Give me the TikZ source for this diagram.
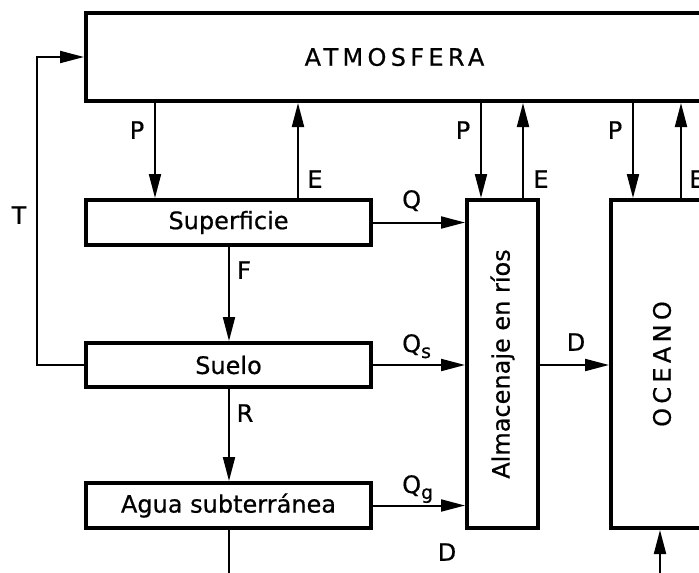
\documentclass[tikz,border=0pt]{standalone}
\usepackage{fontspec}
\setmainfont{DejaVu Sans}[FakeBold=0.6]
\newfontfamily\widefont{DejaVu Sans}[LetterSpace=18, FakeBold=0.6]
\usetikzlibrary{arrows.meta}
\newcommand{\sub}[1]{\raisebox{-6pt}{\fontsize{19}{20}\selectfont #1}}

\begin{document}
\begin{tikzpicture}[x=1pt, y=-1pt, >={Triangle[length=24pt,width=12pt]},
    every node/.style={font=\fontsize{24}{28}\selectfont},
    box/.style={draw, line width=4pt, inner sep=0pt},
    flow/.style={->, line width=2pt},
    line/.style={line width=2pt}]
  % 0. marco de la figura (recortado como el original)
  \useasboundingbox (0,0) rectangle (699,573);
  \clip (0,0) rectangle (699,573);

  % 1. cajas
  \node[box, minimum width=617, minimum height=88] (atm) at (394.5,57) {\widefont ATMOSFERA};
  \node[box, minimum width=285, minimum height=45] (sup) at (228.5,222.5) {Superficie};
  \node[box, minimum width=285, minimum height=44] (suelo) at (228.5,365) {Suelo};
  \node[box, minimum width=285, minimum height=45] (agua) at (228.5,505.5) {Agua subterránea};
  \node[box, minimum width=71, minimum height=328] (rios) at (502.5,364) {\rotatebox{90}{Almacenaje en ríos}};
  \node[box, minimum width=102, minimum height=328] (oceano) at (662,364) {\rotatebox{90}{\widefont OCEANO}};

  % 2. puntos auxiliares de las flechas verticales
  \coordinate (xP1) at (155,0);
  \coordinate (xE1) at (298,0);
  \coordinate (xF) at (229,0);
  \coordinate (xP2) at (481,0);
  \coordinate (xE2) at (523,0);
  \coordinate (xP3) at (633,0);
  \coordinate (xE3) at (681,0);
  \coordinate (xT) at (37,365);
  \coordinate (xD) at (660,580);

  % 3. flujos entre atmosfera y cajas
  \draw[flow] (atm.south -| xP1) -- (sup.north -| xP1);
  \draw[flow] (sup.north -| xE1) -- (atm.south -| xE1);
  \draw[flow] (atm.south -| xP2) -- (rios.north -| xP2);
  \draw[flow] (rios.north -| xE2) -- (atm.south -| xE2);
  \draw[flow] (atm.south -| xP3) -- (oceano.north -| xP3);
  \draw[flow] (oceano.north -| xE3) -- (atm.south -| xE3);
  \draw[flow] (suelo.west) -- (xT) |- (atm.west);

  % 4. flujos hacia abajo y hacia los rios
  \draw[flow] (sup.south -| xF) -- (suelo.north -| xF);
  \draw[flow] (suelo.south -| xF) -- (agua.north -| xF);
  \draw[line] (agua.south -| xF) -- (xF |- xD);
  \draw[flow] (sup.east) -- (rios.west |- sup.east);
  \draw[flow] (suelo.east) -- (rios.west |- suelo.east);
  \draw[flow] (agua.east) -- (rios.west |- agua.east);
  \draw[flow] (rios.east |- suelo.east) -- (oceano.west |- suelo.east);
  \draw[flow] (xD) -- (oceano.south -| xD);

  % 5. etiquetas
  \node at (19,215) {T};
  \node at (137,130) {P};
  \node at (315,179) {E};
  \node at (244,270) {F};
  \node at (245,413) {R};
  \node at (463,130) {P};
  \node at (541,179) {E};
  \node at (615,130) {P};
  \node at (697,179) {E};
  \node at (576,342) {D};
  \node at (447,552) {D};
  \node[anchor=base west, inner sep=0pt] at (402,208) {Q};
  \node[anchor=base west, inner sep=0pt] at (402,352) {Q\sub{s}};
  \node[anchor=base west, inner sep=0pt] at (402,493) {Q\sub{g}};
\end{tikzpicture}
\end{document}
